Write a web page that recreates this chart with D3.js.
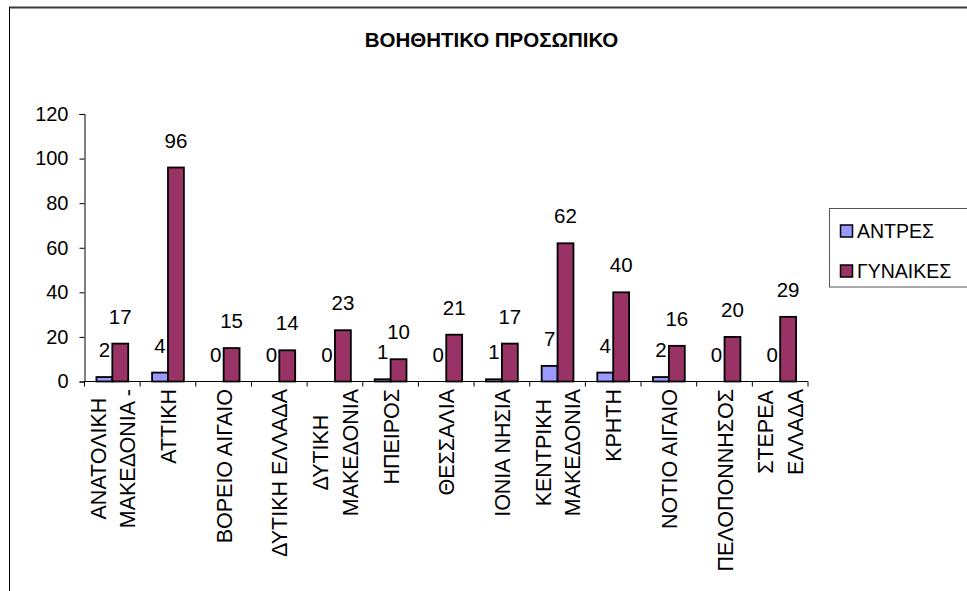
<!DOCTYPE html>
<html>
<head>
<meta charset="utf-8">
<script src="https://cdn.jsdelivr.net/npm/d3@7"></script>
<style>
  html, body { margin: 0; padding: 0; background: #fff; }
  svg { display: block; font-family: Arial, "Liberation Sans", sans-serif; }
</style>
</head>
<body>
<svg id="chart" width="967" height="591"></svg>
<script>
const title = "ΒΟΗΘΗΤΙΚΟ ΠΡΟΣΩΠΙΚΟ";
const categories = [
  ["ΑΝΑΤΟΛΙΚΗ", "ΜΑΚΕΔΟΝΙΑ -"],
  ["ΑΤΤΙΚΗ"],
  ["ΒΟΡΕΙΟ ΑΙΓΑΙΟ"],
  ["ΔΥΤΙΚΗ ΕΛΛΑΔΑ"],
  ["ΔΥΤΙΚΗ", "ΜΑΚΕΔΟΝΙΑ"],
  ["ΗΠΕΙΡΟΣ"],
  ["ΘΕΣΣΑΛΙΑ"],
  ["ΙΟΝΙΑ ΝΗΣΙΑ"],
  ["ΚΕΝΤΡΙΚΗ", "ΜΑΚΕΔΟΝΙΑ"],
  ["ΚΡΗΤΗ"],
  ["ΝΟΤΙΟ ΑΙΓΑΙΟ"],
  ["ΠΕΛΟΠΟΝΝΗΣΟΣ"],
  ["ΣΤΕΡΕΑ", "ΕΛΛΑΔΑ"]
];
const seriesNames = ["ΑΝΤΡΕΣ", "ΓΥΝΑΙΚΕΣ"];
const men   = [2, 4, 0, 0, 0, 1, 0, 1, 7, 4, 2, 0, 0];
const women = [17, 96, 15, 14, 23, 10, 21, 17, 62, 40, 16, 20, 29];
const yTicks = [0, 20, 40, 60, 80, 100, 120];
const colors = ["#9999FF", "#993366"];

const svg = d3.select("#chart");
const catKeys = categories.map(c => c.join(" "));
const seriesData = [men, women];

// chart border
svg.append("line").attr("x1", 9).attr("x2", 967).attr("y1", 7.5).attr("y2", 7.5)
  .attr("stroke", "#3a3a3a").attr("stroke-width", 2);
svg.append("line").attr("x1", 9.5).attr("x2", 9.5).attr("y1", 7).attr("y2", 591)
  .attr("stroke", "#000").attr("stroke-width", 1);

// title
svg.append("text").attr("x", 491.5).attr("y", 47).attr("text-anchor", "middle")
  .attr("font-size", 20.5).attr("font-weight", "bold").text(title);

const x0 = d3.scaleBand().domain(catKeys).range([84.5, 808]).paddingInner(0).paddingOuter(0);
const x1 = d3.scaleBand().domain(seriesNames).range([0, x0.bandwidth()]).paddingInner(0).paddingOuter(0.75);
const y = d3.scaleLinear().domain([0, 120]).range([381.5, 114]);

// y axis
const yAxis = d3.axisLeft(y).tickValues(yTicks).tickSize(5).tickPadding(11);
const gy = svg.append("g").attr("transform", "translate(84.5,0)").call(yAxis);
gy.selectAll("text").attr("font-size", 20).attr("font-family", "Arial, 'Liberation Sans', sans-serif").attr("fill", "#000");
gy.selectAll("line, path").attr("stroke", "#000");

// bars
catKeys.forEach((k, i) => {
  seriesNames.forEach((s, j) => {
    const v = seriesData[j][i];
    svg.append("rect")
      .attr("x", x0(k) + x1(s))
      .attr("y", y(v))
      .attr("width", x1.bandwidth())
      .attr("height", y(0) - y(v))
      .attr("fill", colors[j])
      .attr("stroke", "#000")
      .attr("stroke-width", 1.8);
  });
});

// x axis (drawn after bars)
const xEdges = catKeys.map(k => x0(k)).concat([x0.range()[1]]);
const gx = svg.append("g");
gx.append("line").attr("x1", 84.5).attr("x2", 808).attr("y1", 381.5).attr("y2", 381.5).attr("stroke", "#000");
gx.selectAll("line.tick").data(xEdges).enter().append("line")
  .attr("x1", d => d).attr("x2", d => d).attr("y1", 381.5).attr("y2", 386.5).attr("stroke", "#000");

// value labels
catKeys.forEach((k, i) => {
  seriesNames.forEach((s, j) => {
    const v = seriesData[j][i];
    svg.append("text")
      .attr("x", x0(k) + x1(s) + x1.bandwidth() / 2)
      .attr("y", y(v) - 20)
      .attr("text-anchor", "middle")
      .attr("font-size", 20.5)
      .text(v);
  });
});

// x category labels (rotated)
const fs = 22.5, lineGap = 29.5, sx = 0.955;
categories.forEach((lines, i) => {
  const cx = x0(catKeys[i]) + x0.bandwidth() / 2;
  const g = svg.append("g").attr("transform", `translate(${cx},389) rotate(-90) scale(${sx},1)`);
  const n = lines.length;
  const texts = lines.map((t, li) => g.append("text")
    .attr("font-size", fs)
    .attr("y", (li - (n - 1) / 2) * lineGap + fs * 0.358)
    .text(t));
  const maxLen = d3.max(texts, t => t.node().getComputedTextLength());
  texts.forEach(t => t.attr("text-anchor", "middle").attr("x", -maxLen / 2));
});

// legend
const lg = svg.append("g");
lg.append("rect").attr("x", 829.5).attr("y", 208.5).attr("width", 145).attr("height", 78.5)
  .attr("fill", "#fff").attr("stroke", "#555").attr("stroke-width", 1);
seriesNames.forEach((s, j) => {
  const yy = 225 + j * 40;
  lg.append("rect").attr("x", 840.5).attr("y", yy).attr("width", 12).attr("height", 12)
    .attr("fill", colors[j]).attr("stroke", "#000").attr("stroke-width", 1.5);
  lg.append("text").attr("x", 857).attr("y", yy + 12.5).attr("font-size", 19.5).text(s);
});
</script>
</body>
</html>
